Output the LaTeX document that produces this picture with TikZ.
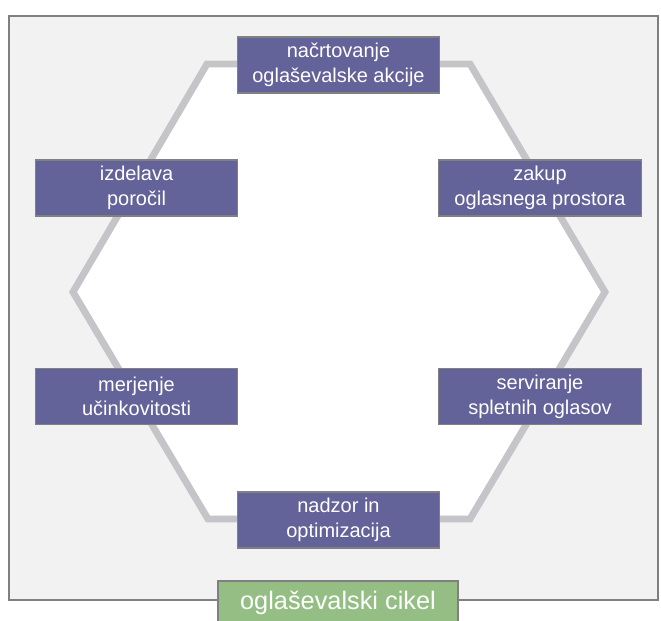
\documentclass[tikz,border=0pt]{standalone}
\usepackage{fontspec}
\setmainfont{Liberation Sans}
\usetikzlibrary{positioning}
\definecolor{stagefill}{RGB}{99,98,153}
\definecolor{cyclefill}{RGB}{148,190,131}
\definecolor{ringgray}{RGB}{197,197,201}
\definecolor{panelgray}{RGB}{242,242,242}
\definecolor{edgegray}{RGB}{128,128,128}
\tikzset{
  stage/.style={rectangle, draw=edgegray, line width=0.8pt, fill=stagefill,
                text=white, minimum width=152pt, minimum height=42pt,
                inner sep=0pt, align=center,
                font=\fontsize{15}{18.5}\selectfont},
  cycletag/.style={stage, fill=cyclefill, minimum width=180pt,
                   minimum height=33pt, font=\fontsize{19}{22}\selectfont},
  ring/.style={draw=ringgray, fill=white, line width=5.2pt, line join=miter},
  panel/.style={draw=edgegray, fill=panelgray, line width=1.1pt},
}
\begin{document}
\begin{tikzpicture}[x=0.75pt, y=-0.75pt]
  \useasboundingbox (0,0) rectangle (661,621);

  \draw[panel] (9,16) rectangle (658,600);

  % hexagon corners
  \coordinate (tl) at (207,64);
  \coordinate (tr) at (470,64);
  \coordinate (rt) at (605,292);
  \coordinate (br) at (470,519);
  \coordinate (bl) at (208,519);
  \coordinate (lt) at (73,292);
  \draw[ring] (tl) -- (tr) -- (rt) -- (br) -- (bl) -- (lt) -- cycle;

  \node[stage] (plan)   at (338.5,65)  {načrtovanje\\oglaševalske akcije};
  \node[stage] (zakup)  at (540,188)   {zakup\\oglasnega prostora};
  \node[stage] (serv)   at (540,396.5) {serviranje\\spletnih oglasov};
  \node[stage] (nadzor) at (338.5,520) {nadzor in\\optimizacija};
  \node[stage] (merj)   at (136.5,396.5) {merjenje\\učinkovitosti};
  \node[stage] (izd)    at (136.5,188)   {izdelava\\poročil};

  \node[cycletag] (cikel) at (338,603) {oglaševalski cikel};

\end{tikzpicture}
\end{document}
